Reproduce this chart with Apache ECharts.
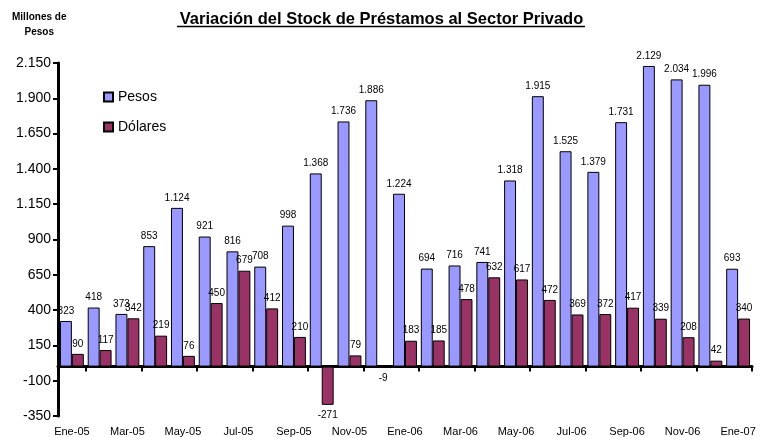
<!DOCTYPE html>
<html><head><meta charset="utf-8">
<script src="https://cdn.jsdelivr.net/npm/echarts@6/dist/echarts.min.js"></script>
<style>html,body{margin:0;padding:0;background:#fff}#c{width:763px;height:437px}</style>
</head><body><div id="c"></div>
<script>
const categories = ['Ene-05','Feb-05','Mar-05','Abr-05','May-05','Jun-05','Jul-05','Ago-05','Sep-05','Oct-05','Nov-05','Dic-05',
  'Ene-06','Feb-06','Mar-06','Abr-06','May-06','Jun-06','Jul-06','Ago-06','Sep-06','Oct-06','Nov-06','Dic-06','Ene-07'];
const pesos = [323,418,373,853,1124,921,816,708,998,1368,1736,1886,1224,694,716,741,1318,1915,1525,1379,1731,2129,2034,1996,693];
const dolares = [90,117,342,219,76,450,679,412,210,-271,79,-9,183,185,478,632,617,472,369,372,417,339,208,42,340];
const yMin = -350, yMax = 2150, yStep = 250;

const fmt = v => {
  const s = Math.abs(v).toString().replace(/\B(?=(\d{3})+(?!\d))/g, '.');
  return (v < 0 ? '-' : '') + s;
};
const font = 'Liberation Sans, Arial, sans-serif';
const mk = arr => arr.map(v => ({value: v, label: {position: v < 0 ? 'bottom' : 'top'}}));

const chart = echarts.init(document.getElementById('c'));
chart.setOption({
  animation: false,
  backgroundColor: '#fff',
  title: {
    text: 'Variación del Stock de Préstamos al Sector Privado',
    left: 'center', top: 6,
    textStyle: {fontFamily: font, fontSize: 16.5, fontWeight: 'bold', color: '#000'}
  },
  graphic: [
    {type: 'text', left: 12, top: 10, style: {text: 'Millones de\nPesos', fontFamily: font, fontSize: 10, fontWeight: 'bold', fill: '#000', textAlign: 'center', lineHeight: 15}},
    {type: 'line', shape: {x1: 177, y1: 26.5, x2: 585, y2: 26.5}, style: {stroke: '#000', lineWidth: 1.3}}
  ],
  legend: {
    orient: 'vertical', left: 98, top: 85, itemGap: 16,
    itemWidth: 9, itemHeight: 9,
    textStyle: {fontFamily: font, fontSize: 14, color: '#000'},
    data: [{name: 'Pesos', icon: 'rect'}, {name: 'Dólares', icon: 'rect'}]
  },
  grid: {left: 58, right: 11, top: 63, bottom: 21, outerBoundsMode: 'none', containLabel: false},
  xAxis: [{
    type: 'category', data: categories,
    axisLine: {onZero: true, lineStyle: {color: '#000', width: 3}},
    axisTick: {show: true, interval: (i) => i % 2 === 1, length: 5, lineStyle: {color: '#000', width: 2}},
    axisLabel: {show: false}
  }, {
    type: 'category', data: categories, position: 'bottom',
    axisLine: {show: false, onZero: false}, axisTick: {show: false},
    axisLabel: {interval: 1, margin: 10, fontFamily: font, fontSize: 11, color: '#000'}
  }],
  yAxis: {
    type: 'value', min: yMin, max: yMax, interval: yStep,
    splitLine: {show: false},
    axisLine: {show: true, lineStyle: {color: '#000', width: 3}},
    axisTick: {show: true, length: 5, lineStyle: {color: '#000', width: 2}},
    axisLabel: {formatter: fmt, fontFamily: font, fontSize: 14, color: '#000', margin: 7}
  },
  series: [
    {name: 'Pesos', type: 'bar', data: mk(pesos), barGap: '0%', barCategoryGap: '14%',
     itemStyle: {color: '#9999FF', borderColor: '#000', borderWidth: 1},
     label: {show: true, formatter: p => fmt(p.value), fontFamily: font, fontSize: 10, color: '#000', distance: 5}},
    {name: 'Dólares', type: 'bar', data: mk(dolares),
     itemStyle: {color: '#993366', borderColor: '#000', borderWidth: 1},
     label: {show: true, formatter: p => fmt(p.value), fontFamily: font, fontSize: 10, color: '#000', distance: 5}}
  ]
});
</script></body></html>
